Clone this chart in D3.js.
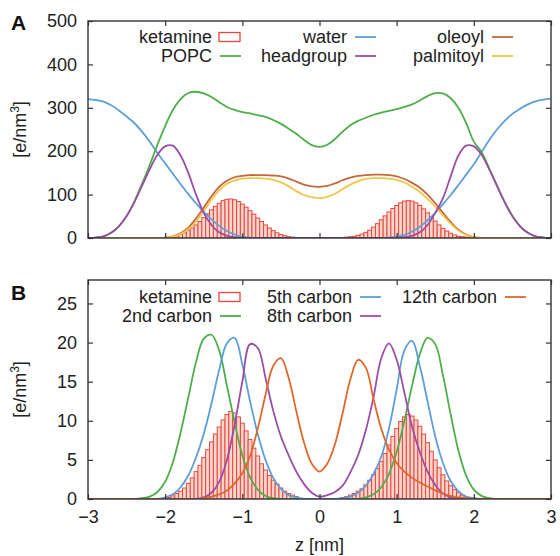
<!DOCTYPE html>
<html>
<head>
<meta charset="utf-8">
<script src="https://cdn.jsdelivr.net/npm/d3@7"></script>
<style>
  body { margin: 0; background: #fff; }
  svg { display: block; font-family: "Liberation Sans", Arial, sans-serif; }
</style>
</head>
<body>
<div></div>
<script>
const width = 560;
const height = 556;

// z grid for the profiles, -3 .. 3 nm in 0.1 steps
const zGrid = d3.range(61).map(i => -3 + i * 0.1);
// ketamine histogram bin centres, -2 .. 2 nm, 0.05 nm wide
const binWidth = 0.05;
const zBins = d3.range(81).map(i => -2 + i * binWidth);

// panel A  [e/nm3]
const water = [320, 318, 314, 306, 294, 280, 265, 245, 222, 196, 172, 148, 124, 101, 80, 60, 43, 28, 16, 8, 3, 1, 0, 0, 0, 0, 0, 0, 0, 0,
  0,
  0, 0, 0, 0, 0, 0, 0, 0, 1, 3, 7, 15, 26, 41, 58, 78, 99, 122, 146, 170, 198, 226, 250, 270, 286, 298, 308, 315, 319, 321];
const headgroup = [0, 1, 4, 12, 27, 50, 82, 120, 158, 192, 211, 213, 190, 150, 100, 58, 30, 13, 5, 2, 0, 0, 0, 0, 0, 0, 0, 0, 0, 0,
  0,
  0, 0, 0, 0, 0, 0, 0, 0, 0, 0, 2, 5, 13, 30, 58, 92, 142, 190, 213, 211, 192, 158, 120, 82, 50, 27, 12, 4, 1, 0];
const popc = [0, 1, 4, 12, 27, 51, 84, 125, 168, 215, 258, 295, 320, 334, 337, 333, 325, 313, 302, 295, 290, 287, 283, 279, 272, 263, 252, 240, 226, 214,
  210,
  215, 228, 245, 260, 270, 277, 284, 289, 293, 297, 302, 308, 317, 327, 334, 333, 322, 300, 265, 222, 198, 160, 121, 83, 51, 27, 12, 4, 1, 0];
const oleoyl = [0, 0, 0, 0, 0, 0, 0, 0, 0, 0, 1, 4, 11, 24, 45, 70, 96, 118, 132, 140, 143, 145, 145, 145, 144, 142, 137, 130, 123, 119,
  118,
  120, 126, 133, 139, 143, 145, 146, 146, 145, 142, 136, 127, 116, 100, 80, 58, 37, 19, 8, 2, 0, 0, 0, 0, 0, 0, 0, 0, 0, 0];
const palmitoyl = [0, 0, 0, 0, 0, 0, 0, 0, 0, 0, 1, 3, 9, 20, 38, 62, 88, 110, 125, 133, 137, 138, 138, 137, 134, 128, 119, 108, 99, 94,
  92,
  95, 102, 113, 123, 131, 136, 138, 138, 137, 134, 128, 118, 106, 90, 72, 52, 33, 17, 7, 2, 0, 0, 0, 0, 0, 0, 0, 0, 0, 0];
const ketamineA = [1, 2, 3, 5, 8, 12, 17, 23, 30, 38, 47, 56, 65, 73, 80, 86, 89, 90, 88, 84, 78, 71, 63, 55, 46, 38, 30, 23, 17, 12, 8, 5, 3, 2, 1,
  0, 0, 0, 0, 0, 0, 0, 0, 0, 0, 0,
  1, 2, 3, 4, 6, 9, 13, 18, 25, 33, 42, 51, 60, 68, 75, 81, 85, 86, 85, 81, 75, 67, 58, 48, 39, 30, 22, 16, 11, 7, 4, 3, 2, 1, 0];

// panel B  [e/nm3]
const carbon2 = [0, 0, 0, 0, 0, 0, 0, 0.1, 0.3, 0.9, 2.2, 4.7, 8.5, 13.0, 17.5, 20.5, 21.0, 19.0, 14.5, 9.8, 5.6, 2.8, 1.2, 0.4, 0.1, 0, 0, 0, 0, 0,
  0,
  0, 0, 0, 0, 0, 0.2, 0.6, 1.5, 3.2, 6.0, 10.0, 14.5, 18.5, 20.6, 19.8, 15.8, 10.8, 6.2, 3.0, 1.2, 0.4, 0.1, 0, 0, 0, 0, 0, 0, 0, 0];
const carbon5 = [0, 0, 0, 0, 0, 0, 0, 0, 0, 0, 0.2, 0.6, 1.5, 3.0, 5.3, 8.3, 12.2, 16.5, 19.9, 20.6, 17.2, 12.5, 8.3, 5.0, 2.7, 1.3, 0.5, 0.2, 0, 0,
  0,
  0, 0, 0.1, 0.3, 0.8, 1.7, 3.2, 5.4, 9.0, 14.0, 19.0, 20.2, 17.0, 12.5, 8.0, 4.6, 2.3, 1.0, 0.3, 0.1, 0, 0, 0, 0, 0, 0, 0, 0, 0, 0];
const carbon8 = [0, 0, 0, 0, 0, 0, 0, 0, 0, 0, 0, 0, 0, 0, 0, 0.2, 0.8, 2.2, 5.0, 9.5, 15.0, 19.8, 19.3, 15.5, 11.3, 8.0, 5.6, 3.5, 1.9, 0.8,
  0.3,
  0.5, 0.9, 1.7, 3.4, 5.6, 8.8, 13.0, 18.0, 19.9, 17.8, 13.6, 9.2, 6.0, 3.5, 1.8, 0.7, 0.2, 0, 0, 0, 0, 0, 0, 0, 0, 0, 0, 0, 0, 0];
const carbon12 = [0, 0, 0, 0, 0, 0, 0, 0, 0, 0, 0, 0, 0, 0, 0, 0.1, 0.3, 0.6, 1.1, 2.0, 3.3, 5.5, 9.0, 13.3, 17.0, 18.0, 15.5, 11.2, 7.2, 4.5,
  3.5,
  4.5, 7.0, 11.0, 15.3, 17.8, 16.8, 12.8, 9.0, 6.3, 4.6, 3.5, 2.7, 2.1, 1.6, 1.1, 0.7, 0.4, 0.2, 0.1, 0, 0, 0, 0, 0, 0, 0, 0, 0, 0, 0];
const ketamineB = [0.1, 0.2, 0.4, 0.7, 1.0, 1.4, 2.0, 2.7, 3.5, 4.3, 5.3, 6.3, 7.3, 8.3, 9.2, 10.1, 10.8, 11.2, 11.0, 10.5, 9.7, 8.7, 7.6, 6.5, 5.5, 4.5, 3.7, 3.0, 2.4, 1.9, 1.4, 1.0, 0.7, 0.5, 0.3,
  0, 0, 0, 0, 0, 0, 0, 0, 0, 0, 0,
  0.2, 0.3, 0.5, 0.7, 1.0, 1.3, 1.8, 2.4, 3.1, 3.9, 4.8, 5.8, 6.9, 8.0, 9.0, 9.9, 10.5, 10.8, 10.6, 10.1, 9.3, 8.3, 7.2, 6.1, 5.0, 4.0, 3.1, 2.3, 1.7, 1.2, 0.8, 0.5, 0.3, 0.2, 0.1];

const xTicks = [-3, -2, -1, 0, 1, 2, 3];
const yTicksA = [0, 100, 200, 300, 400, 500];
const yTicksB = [0, 5, 10, 15, 20, 25];

const red = "#e8463a";
const font = "Liberation Sans, Arial, sans-serif";

const panelA = {
  label: "A", top: 21, bottom: 238, yMax: 500, yTicks: yTicksA, xLabels: false,
  hist: ketamineA,
  curves: [
    { name: "water", values: water, color: "#5d9fd8" },
    { name: "POPC", values: popc, color: "#4eae4a" },
    { name: "oleoyl", values: oleoyl, color: "#c4683c" },
    { name: "palmitoyl", values: palmitoyl, color: "#f3c44a" },
    { name: "headgroup", values: headgroup, color: "#9a4ea6" }
  ],
  legend: [
    { name: "ketamine", box: true, col: 212, row: 0 },
    { name: "POPC", color: "#4eae4a", col: 212, row: 1 },
    { name: "water", color: "#5d9fd8", col: 347, row: 0 },
    { name: "headgroup", color: "#9a4ea6", col: 347, row: 1 },
    { name: "oleoyl", color: "#c4683c", col: 484, row: 0 },
    { name: "palmitoyl", color: "#f3c44a", col: 484, row: 1 }
  ],
  legendY: 37, labelY: 30
};

const panelB = {
  label: "B", top: 280, bottom: 499, yMax: 28, yTicks: yTicksB, xLabels: true,
  hist: ketamineB,
  curves: [
    { name: "2nd carbon", values: carbon2, color: "#4eae4a" },
    { name: "5th carbon", values: carbon5, color: "#5d9fd8" },
    { name: "8th carbon", values: carbon8, color: "#9a4ea6" },
    { name: "12th carbon", values: carbon12, color: "#e0672c" }
  ],
  legend: [
    { name: "ketamine", box: true, col: 212, row: 0 },
    { name: "2nd carbon", color: "#4eae4a", col: 212, row: 1 },
    { name: "5th carbon", color: "#5d9fd8", col: 352, row: 0 },
    { name: "8th carbon", color: "#9a4ea6", col: 352, row: 1 },
    { name: "12th carbon", color: "#e0672c", col: 497, row: 0 }
  ],
  legendY: 297, labelY: 300
};

const left = 88, right = 551;

const x = d3.scaleLinear().domain([-3, 3]).range([left, right]);

const svg = d3.create("svg")
  .attr("width", width)
  .attr("height", height)
  .attr("viewBox", [0, 0, width, height]);

svg.append("rect").attr("width", width).attr("height", height).attr("fill", "#fff");

function drawPanel(p, idx) {
  const y = d3.scaleLinear().domain([0, p.yMax]).range([p.bottom, p.top]);
  const g = svg.append("g");

  const clipId = "clip" + idx;
  svg.append("clipPath").attr("id", clipId)
    .append("rect")
    .attr("x", left).attr("y", p.top)
    .attr("width", right - left).attr("height", p.bottom - p.top);

  // ketamine histogram
  const bw = x(binWidth) - x(0);
  g.append("g")
    .attr("clip-path", "url(#" + clipId + ")")
    .selectAll("rect")
    .data(zBins.map((z, i) => ({ z: z, v: p.hist[i] })).filter(d => d.v > 0))
    .join("rect")
    .attr("x", d => x(d.z) - bw / 2)
    .attr("width", bw)
    .attr("y", d => y(d.v))
    .attr("height", d => y(0) - y(d.v))
    .attr("fill", "#fbd6cf")
    .attr("stroke", red)
    .attr("stroke-width", 1);

  const line = d3.line()
    .x((d, i) => x(zGrid[i]))
    .y(d => y(d))
    .curve(d3.curveCatmullRom.alpha(0.5));

  g.append("g")
    .attr("clip-path", "url(#" + clipId + ")")
    .selectAll("path")
    .data(p.curves)
    .join("path")
    .attr("fill", "none")
    .attr("stroke", d => d.color)
    .attr("stroke-width", 1.8)
    .attr("d", d => line(d.values));

  // axes, ticks pointing inward on all four sides
  const ax = g.append("g");
  ax.append("g")
    .attr("transform", `translate(0,${p.bottom})`)
    .call(d3.axisBottom(x).tickValues(xTicks).tickSizeInner(-5).tickSizeOuter(0).tickPadding(11)
      .tickFormat(p.xLabels ? d3.format("d") : ""));
  ax.append("g")
    .attr("transform", `translate(0,${p.top})`)
    .call(d3.axisTop(x).tickValues(xTicks).tickSizeInner(-5).tickSizeOuter(0).tickFormat(""));
  ax.append("g")
    .attr("transform", `translate(${left},0)`)
    .call(d3.axisLeft(y).tickValues(p.yTicks).tickSizeInner(-5).tickSizeOuter(0).tickPadding(11));
  ax.append("g")
    .attr("transform", `translate(${right},0)`)
    .call(d3.axisRight(y).tickValues(p.yTicks).tickSizeInner(-5).tickSizeOuter(0).tickFormat(""));
  ax.selectAll("g").attr("font-size", 18).attr("font-family", font);
  ax.selectAll(".domain").remove();
  ax.selectAll(".tick line").attr("stroke", "#333").attr("stroke-width", 1.2);
  ax.selectAll(".tick text").attr("fill", "#222");

  g.append("rect")
    .attr("x", left).attr("y", p.top)
    .attr("width", right - left).attr("height", p.bottom - p.top)
    .attr("fill", "none")
    .attr("stroke", "#333")
    .attr("stroke-width", 1.4);

  // y label
  const yl = g.append("text")
    .attr("transform", `translate(26,${(p.top + p.bottom) / 2}) rotate(-90)`)
    .attr("text-anchor", "middle")
    .attr("font-size", 18)
    .attr("fill", "#222");
  yl.append("tspan").text("[e/nm");
  yl.append("tspan").attr("font-size", 12).attr("dy", -7).text("3");
  yl.append("tspan").attr("dy", 7).text("]");

  // panel letter
  g.append("text")
    .attr("x", 11).attr("y", p.labelY)
    .attr("font-size", 21)
    .attr("font-weight", "bold")
    .attr("fill", "#111")
    .text(p.label);

  // legend
  const lg = g.append("g").attr("font-size", 18).attr("fill", "#222");
  p.legend.forEach(d => {
    const cy = p.legendY + d.row * 19;
    lg.append("text")
      .attr("x", d.col).attr("y", cy)
      .attr("dy", "0.35em")
      .attr("text-anchor", "end")
      .text(d.name);
    if (d.box) {
      lg.append("rect")
        .attr("x", d.col + 7).attr("y", cy - 4.5)
        .attr("width", 21).attr("height", 9)
        .attr("fill", "#fff")
        .attr("stroke", red)
        .attr("stroke-width", 1.3);
    } else {
      lg.append("line")
        .attr("x1", d.col + 8).attr("x2", d.col + 29)
        .attr("y1", cy).attr("y2", cy)
        .attr("stroke", d.color)
        .attr("stroke-width", 1.8);
    }
  });
}

drawPanel(panelA, 0);
drawPanel(panelB, 1);

svg.append("text")
  .attr("x", x(0)).attr("y", 551)
  .attr("text-anchor", "middle")
  .attr("font-size", 18)
  .attr("fill", "#222")
  .text("z [nm]");

d3.select("body>div").append(() => svg.node());
</script>
</body>
</html>
